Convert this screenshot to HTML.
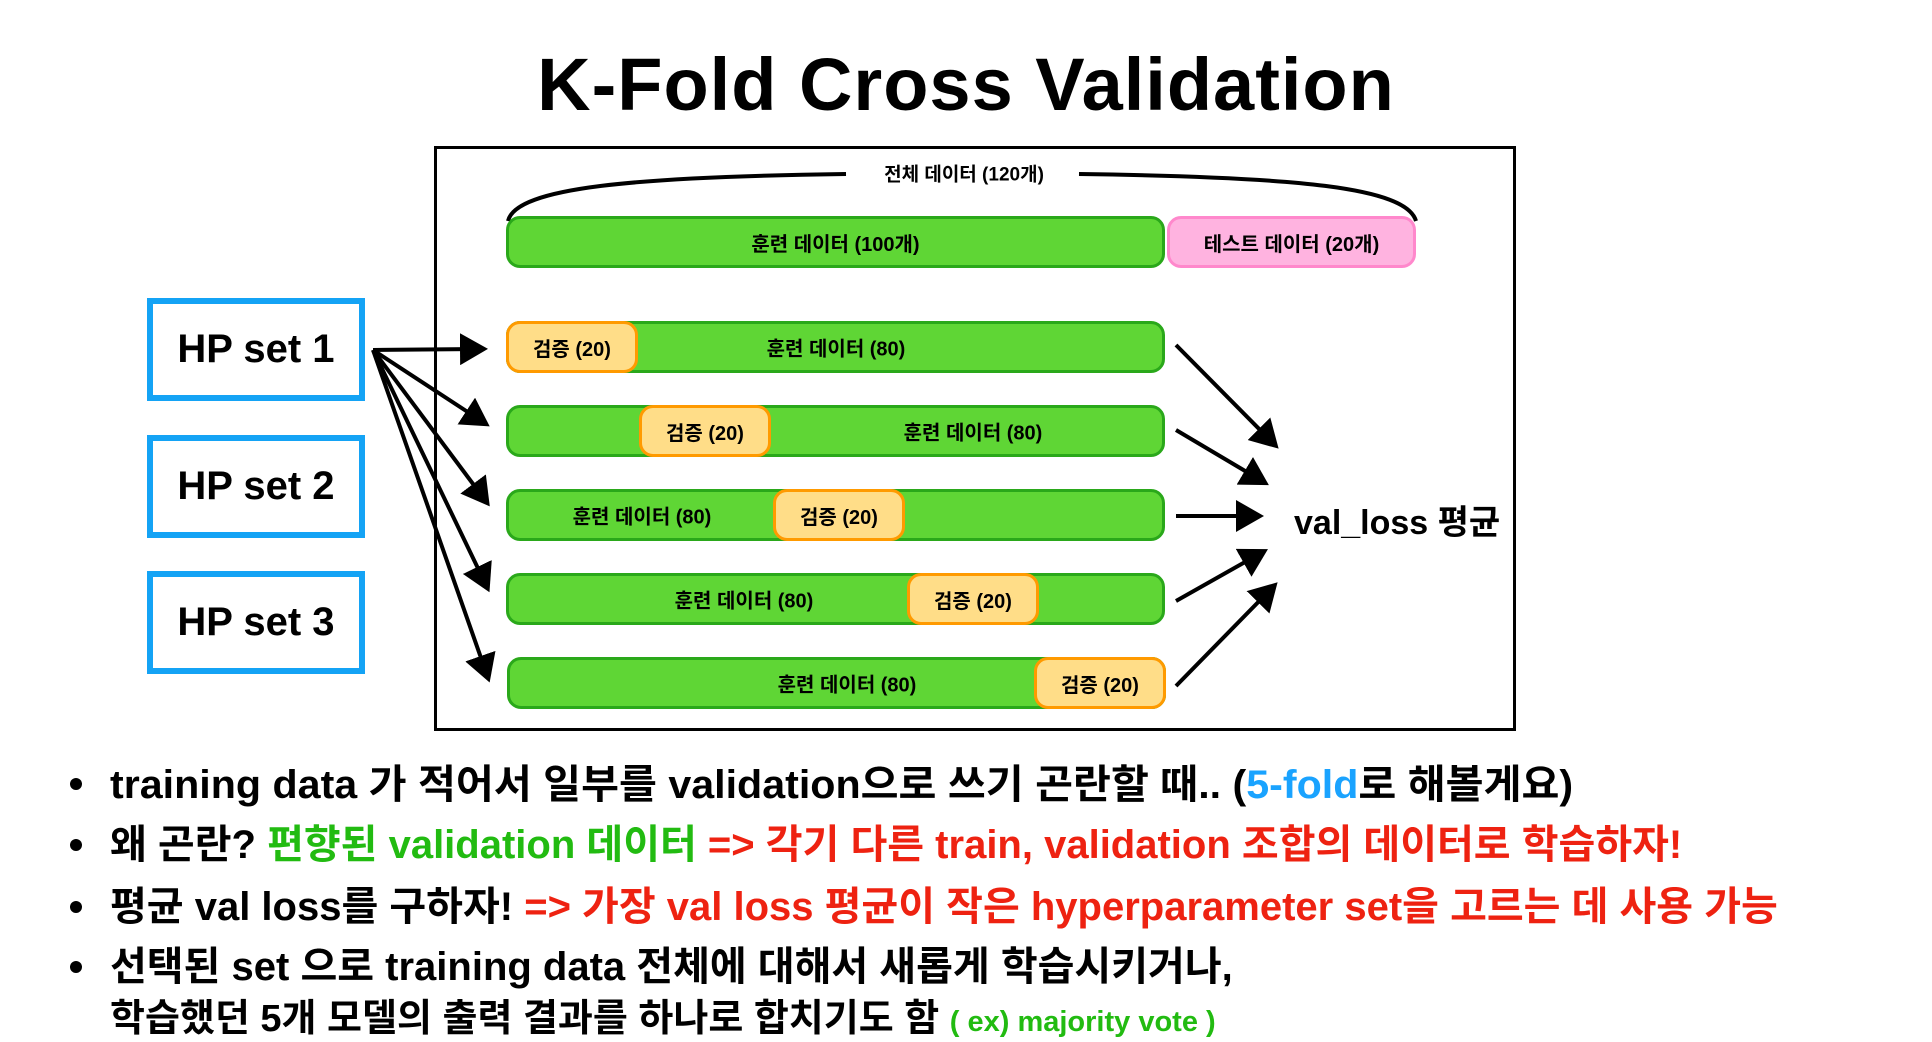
<!DOCTYPE html>
<html><head><meta charset="utf-8">
<style>
body{margin:0;width:1932px;height:1036px;background:#fff;position:relative;overflow:hidden;font-family:"Liberation Sans","Noto Sans CJK KR",sans-serif;font-weight:bold;color:#000}
.a{position:absolute;white-space:nowrap}
.bar{position:absolute;box-sizing:border-box;border-radius:14px;display:flex;align-items:center;justify-content:center;font-size:20px}
.g{background:#5fd635;border:3px solid #2aa81a}
.o{background:#ffdd88;border:3px solid #ff9a00}
.p{background:#ffb3e0;border:3px solid #ff88cc}
.t{position:absolute;font-size:20px;transform:translate(-50%,-50%);white-space:nowrap}
.hp{position:absolute;left:147px;width:218px;height:103px;box-sizing:border-box;border:6px solid #14a3f5;display:flex;align-items:center;justify-content:center;font-size:40px}
.bl{position:absolute;left:110px;font-size:40px;white-space:nowrap;transform-origin:left center}
.dot{position:absolute;left:70px;width:12px;height:12px;border-radius:50%;background:#000}
.gr{color:#22bb11}.rd{color:#ee2211}.bu{color:#1aa3ff}
</style></head><body>
<div class="a" style="left:0;width:1932px;top:42px;text-align:center;font-size:74px;letter-spacing:1px">K-Fold Cross Validation</div>
<div class="a" style="left:434px;top:146px;width:1082px;height:585px;box-sizing:border-box;border:3px solid #000"></div>

<svg class="a" style="left:0;top:0" width="1932" height="1036">
<defs><marker id="ar" markerWidth="8" markerHeight="8" refX="5" refY="4" orient="auto" markerUnits="strokeWidth"><path d="M0,0 L7,4 L0,8 z" fill="#000"/></marker></defs>
<path d="M508,221 C516,187 636,177 846,174" fill="none" stroke="#000" stroke-width="4"/>
<path d="M1079,174 C1296,177 1406,187 1416,221" fill="none" stroke="#000" stroke-width="4"/>
<g stroke="#000" stroke-width="4" fill="none" marker-end="url(#ar)">
<line x1="373" y1="350" x2="480" y2="349"/>
<line x1="373" y1="350" x2="483" y2="422"/>
<line x1="373" y1="350" x2="485" y2="500"/>
<line x1="373" y1="350" x2="486" y2="585"/>
<line x1="373" y1="350" x2="487" y2="675"/>
<line x1="1176" y1="345" x2="1273" y2="443"/>
<line x1="1176" y1="430" x2="1262" y2="481"/>
<line x1="1176" y1="516" x2="1256" y2="516"/>
<line x1="1176" y1="601" x2="1261" y2="553"/>
<line x1="1176" y1="686" x2="1272" y2="588"/>
</g>
</svg>
<div class="t" style="left:964px;top:173px;font-size:19px">전체 데이터 (120개)</div>

<div class="bar g" style="left:506px;top:216px;width:659px;height:52px">훈련 데이터 (100개)</div>
<div class="bar p" style="left:1167px;top:216px;width:249px;height:52px">테스트 데이터 (20개)</div>

<div class="bar g" style="left:506px;top:321px;width:659px;height:52px"></div>
<div class="bar o" style="left:506px;top:321px;width:132px;height:52px">검증 (20)</div>
<div class="t" style="left:836px;top:347px">훈련 데이터 (80)</div>

<div class="bar g" style="left:506px;top:405px;width:659px;height:52px"></div>
<div class="bar o" style="left:639px;top:405px;width:132px;height:52px">검증 (20)</div>
<div class="t" style="left:973px;top:431px">훈련 데이터 (80)</div>

<div class="bar g" style="left:506px;top:489px;width:659px;height:52px"></div>
<div class="bar o" style="left:773px;top:489px;width:132px;height:52px">검증 (20)</div>
<div class="t" style="left:642px;top:515px">훈련 데이터 (80)</div>

<div class="bar g" style="left:506px;top:573px;width:659px;height:52px"></div>
<div class="bar o" style="left:907px;top:573px;width:132px;height:52px">검증 (20)</div>
<div class="t" style="left:744px;top:599px">훈련 데이터 (80)</div>

<div class="bar g" style="left:507px;top:657px;width:659px;height:52px"></div>
<div class="bar o" style="left:1034px;top:657px;width:132px;height:52px">검증 (20)</div>
<div class="t" style="left:847px;top:683px">훈련 데이터 (80)</div>

<div class="a" style="left:1294px;top:495px;font-size:34px">val_loss 평균</div>

<div class="hp" style="top:298px">HP set 1</div>
<div class="hp" style="top:435px">HP set 2</div>
<div class="hp" style="top:571px">HP set 3</div>

<div class="dot" style="top:778px"></div>
<div class="dot" style="top:839px"></div>
<div class="dot" style="top:901px"></div>
<div class="dot" style="top:961px"></div>
<div class="bl" style="top:752px;transform:scaleX(1.03)">training data 가 적어서 일부를 validation으로 쓰기 곤란할 때.. (<span class="bu">5-fold</span>로 해볼게요)</div>
<div class="bl" style="top:812px">왜 곤란? <span class="gr">편향된 validation 데이터</span> <span class="rd">=&gt; 각기 다른 train, validation 조합의 데이터로 학습하자!</span></div>
<div class="bl" style="top:874px">평균 val loss를 구하자! <span class="rd">=&gt; 가장 val loss 평균이 작은 hyperparameter set을 고르는 데 사용 가능</span></div>
<div class="bl" style="top:934px">선택된 set 으로 training data 전체에 대해서 새롭게 학습시키거나,</div>
<div class="bl" style="top:987px;font-size:38px">학습했던 5개 모델의 출력 결과를 하나로 합치기도 함 <span class="gr" style="font-size:29px">( ex) majority vote )</span></div>
</body></html>
